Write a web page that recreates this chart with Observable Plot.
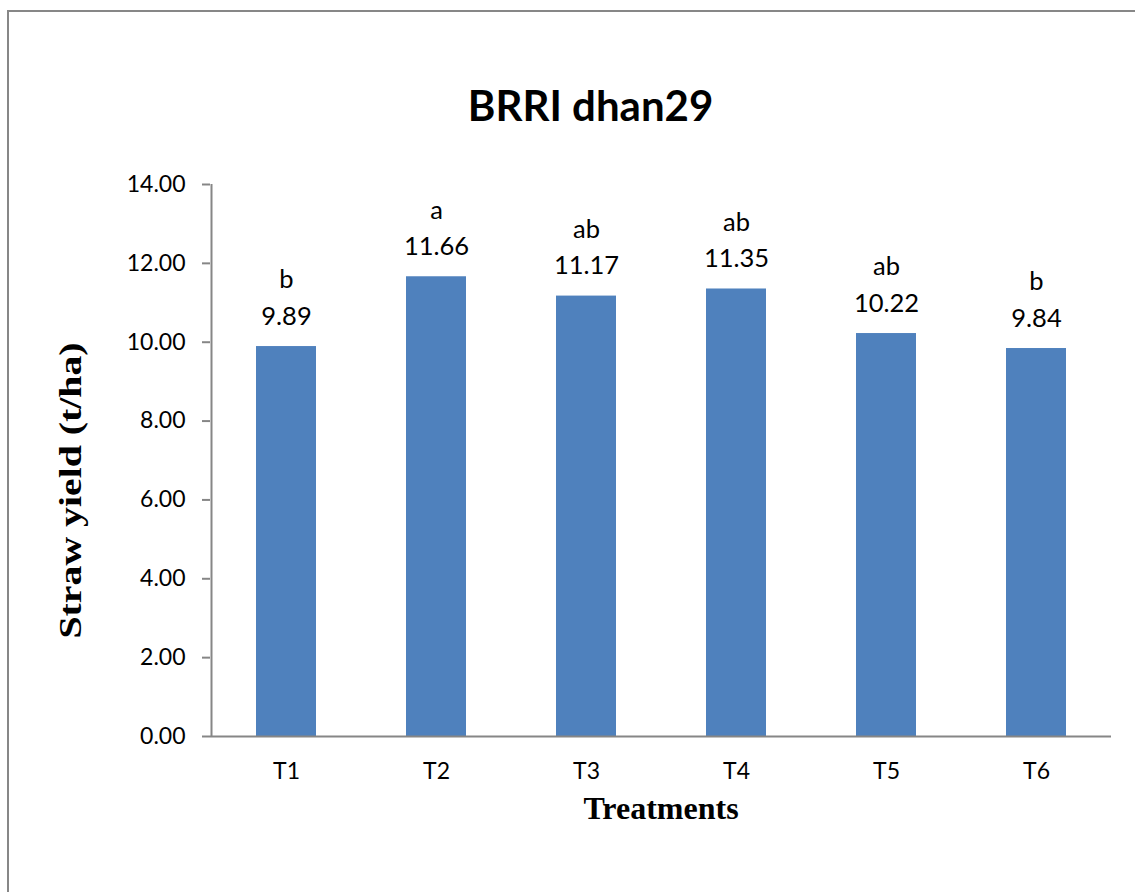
<!DOCTYPE html>
<html>
<head>
<meta charset="utf-8">
<script src="https://cdn.jsdelivr.net/npm/d3@7"></script>
<script src="https://cdn.jsdelivr.net/npm/@observablehq/plot@0.6"></script>
<style>
  html, body { margin: 0; padding: 0; background: #fff; }
  #wrap { position: relative; width: 1135px; height: 892px; overflow: hidden; }
  #bt { position: absolute; left: 7px; top: 10px; width: 1200px; height: 2px; background: #878787; }
  #bl { position: absolute; left: 7px; top: 10px; width: 2px; height: 900px; background: #878787; }
  #chart { position: absolute; left: 0; top: 0; }
</style>
</head>
<body>
<div id="wrap">
  <div id="chart"></div>
  <div id="bt"></div>
  <div id="bl"></div>
</div>
<script>
const treatments = ["T1", "T2", "T3", "T4", "T5", "T6"];
const yields = [9.89, 11.66, 11.17, 11.35, 10.22, 9.84];
const letters = ["b", "a", "ab", "ab", "ab", "b"];
const yTicks = [0, 2, 4, 6, 8, 10, 12, 14];
const titleText = "BRRI dhan29";
const yLabel = "Straw yield (t/ha)";
const xLabel = "Treatments";

const data = treatments.map((t, i) => ({t, v: yields[i], lab: letters[i] + "\n" + yields[i].toFixed(2)}));

const sans = "Lato, 'Open Sans', sans-serif";
const serif = "'Liberation Serif', 'Times New Roman', serif";

const chart = Plot.plot({
  width: 1135,
  height: 892,
  marginLeft: 210,
  marginRight: 24,
  marginTop: 184,
  marginBottom: 156,
  style: {fontFamily: sans, background: "white", color: "black"},
  x: {domain: treatments, padding: 0, label: null},
  y: {domain: [0, 14], label: null},
  marks: [
    Plot.barY(data, {x: "t", y: "v", fill: "#4F81BD", insetLeft: 45, insetRight: 45}),
    Plot.ruleX(["T1"], {y1: 0, y2: 14, dx: -75, stroke: "#868686", strokeWidth: 2}),
    Plot.ruleY([0], {stroke: "#868686", strokeWidth: 2}),
    Plot.axisY({ticks: yTicks, tickFormat: d3.format(".2f"), tickSize: 8, tickPadding: 17, fontSize: 23, stroke: "#868686", strokeWidth: 2, label: null, fill: "black", strokeOpacity: 1}),
    Plot.axisX({tickSize: 0, tickPadding: 26, fontSize: 23, label: null, fill: "black"}),
    Plot.text(data, {x: "t", y: "v", text: "lab", lineAnchor: "bottom", dy: -22, fontSize: 25.5, lineHeight: 1.42, fill: "black"}),
    Plot.text([titleText], {frameAnchor: "top-left", dx: 380, dy: -64, textAnchor: "middle", lineAnchor: "bottom", fontSize: 42, fontWeight: "bold", fontFamily: sans, fill: "black"}),
    Plot.text([xLabel], {frameAnchor: "bottom", dy: 82, lineAnchor: "bottom", fontSize: 32, fontWeight: "bold", fontFamily: serif, fill: "black"}),
    Plot.text([yLabel], {frameAnchor: "left", dx: -140, dy: 30, rotate: -90, textAnchor: "middle", lineAnchor: "middle", fontSize: 32, fontWeight: "bold", fontFamily: serif, fill: "black"})
  ]
});
document.getElementById("chart").appendChild(chart);
d3.select(chart).selectAll("text").filter(function() { return this.textContent === yLabel; })
  .attr("textLength", 296).attr("lengthAdjust", "spacingAndGlyphs");
</script>
</body>
</html>
